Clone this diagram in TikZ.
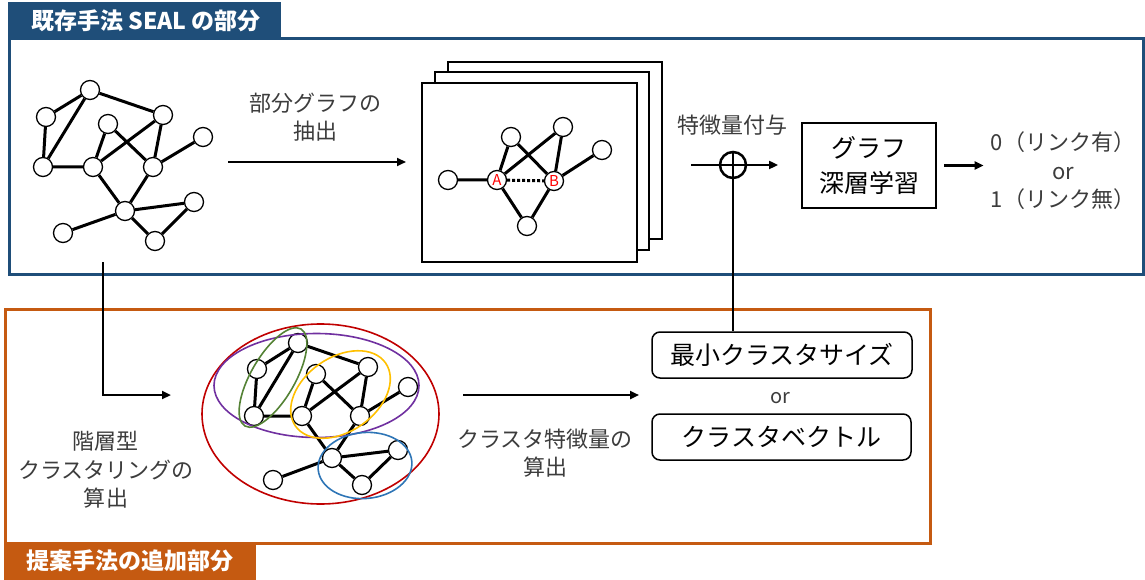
\documentclass[tikz,border=0pt]{standalone}
\usepackage{fontspec}
\setmainfont{Noto Sans CJK JP}
\usetikzlibrary{arrows.meta,shapes.geometric}
\definecolor{sealblue}{RGB}{31,78,121}
\definecolor{addorange}{RGB}{197,90,17}
\definecolor{labelgray}{RGB}{60,60,60}
\definecolor{cred}{RGB}{192,0,0}
\definecolor{cpurple}{RGB}{112,48,160}
\definecolor{cgreen}{RGB}{84,130,53}
\definecolor{cyellow}{RGB}{255,192,0}
\definecolor{cblue}{RGB}{46,117,182}
\begin{document}
\begin{tikzpicture}[x=1pt,y=-1pt,
  gn/.style={circle,draw,fill=white,line width=1.3pt,minimum size=19pt,inner sep=0pt},
  ge/.style={line width=3pt},
  arr/.style={line width=2.5pt,-{Triangle[length=9pt,width=8pt]}},
  lbl/.style={font=\fontsize{22}{28.5}\selectfont,text=labelgray,align=center,inner sep=0pt},
  boxtxt/.style={font=\fontsize{25}{35}\selectfont,align=center},
  titletxt/.style={font=\fontsize{23}{23}\selectfont\bfseries,text=white,inner sep=0pt},
  clus/.style={line width=1.6pt,draw}]
\useasboundingbox (0,0) rectangle (1145,580);
% frames
\draw[sealblue,line width=3pt] (9,39) rectangle (1143,274);
\fill[sealblue] (7.5,2) rectangle (281,40);
\node[titletxt] (t1) at (146,21) {既存手法 SEAL の部分};
\draw[addorange,line width=3pt] (5,309) rectangle (930,543);
\fill[addorange] (3.5,542) rectangle (256,580);
\node[titletxt] (t2) at (130,561) {提案手法の追加部分};
% upper graph
\node[gn] (a1) at (90,90) {};
\node[gn] (a2) at (46,117) {};
\node[gn] (a3) at (108,124) {};
\node[gn] (a4) at (163,115) {};
\node[gn] (a5) at (203,137) {};
\node[gn] (a6) at (43,167) {};
\node[gn] (a7) at (93,167) {};
\node[gn] (a8) at (153,167) {};
\node[gn] (a9) at (125,211) {};
\node[gn] (a10) at (194,202) {};
\node[gn] (a11) at (63,233) {};
\node[gn] (a12) at (155,241) {};
\draw[ge] (a1)--(a2) (a1)--(a4) (a1)--(a6) (a2)--(a6) (a6)--(a7) (a3)--(a7) (a3)--(a8)
  (a4)--(a7) (a4)--(a8) (a8)--(a5) (a7)--(a9) (a8)--(a9) (a9)--(a10) (a9)--(a11)
  (a9)--(a12) (a12)--(a10);
% extraction arrow
\coordinate (e1) at (228,162);
\coordinate (e2) at (406,162);
\draw[arr] (e1) -- (e2);
\node[lbl] (l1) at (315,117) {部分グラフの\\抽出};
% stacked frames
\draw[line width=2pt,fill=white] (448,62) rectangle (662,239);
\draw[line width=2pt,fill=white] (435,72) rectangle (649,250);
\draw[line width=2pt,fill=white] (422,83) rectangle (637,262);
\node[gn] (cL) at (448,180) {};
\node[gn,text=red,font=\fontsize{15}{15}\selectfont] (cA) at (497,180) {A};
\node[gn,text=red,font=\fontsize{15}{15}\selectfont] (cB) at (554,181) {B};
\node[gn] (cT1) at (511,137) {};
\node[gn] (cT2) at (563,127) {};
\node[gn] (cR) at (602,150) {};
\node[gn] (cD) at (527,226) {};
\draw[ge] (cL)--(cA) (cA)--(cT1) (cT1)--(cB) (cA)--(cT2) (cT2)--(cB) (cB)--(cR) (cA)--(cD) (cB)--(cD);
\draw[line width=3pt,dotted] (cA)--(cB);
% feature add
\node[lbl] (l2) at (732,125) {特徴量付与};
\node[circle,draw,line width=2.5pt,minimum size=26pt,inner sep=0pt] (op) at (733,165) {};
\coordinate (f1) at (691,165);
\coordinate (f2) at (778,165);
\draw[arr] (f1) -- (f2);
\node[draw,line width=2pt,minimum width=134pt,minimum height=85pt,boxtxt,inner sep=0pt] (dl) at (869,165.5) {グラフ\\深層学習};
\node[lbl] (out) at (1063,171) {0（リンク有）\\or\\1（リンク無）};
\draw[arr,shorten <=7pt,shorten >=7pt] (dl.east) -- (dl.east -| out.west);
% lower boxes
\node[draw,rounded corners=8pt,line width=1.5pt,minimum width=260pt,minimum height=46pt,inner sep=0pt,boxtxt] (mcs) at (782,355) {最小クラスタサイズ};
\node[font=\fontsize{20}{20}\selectfont,text=labelgray,inner sep=0pt] (or2) at (780,398) {or};
\node[draw,rounded corners=8pt,line width=1.5pt,minimum width=259pt,minimum height=46pt,inner sep=0pt,boxtxt] (cv) at (781.5,437) {クラスタベクトル};
\draw[line width=2.5pt] (op.north) -- (op.north |- mcs.north);
% L arrow
\coordinate (g1) at (103,262);
\coordinate (g2) at (171,395);
\draw[arr] (g1) |- (g2);
\node[lbl] (l3) at (106,470) {階層型\\クラスタリングの\\算出};
% lower graph
\node[gn] (b1) at (298,343) {};
\node[gn] (b2) at (257,369) {};
\node[gn] (b3) at (316,374) {};
\node[gn] (b4) at (368,367) {};
\node[gn] (b5) at (408,387) {};
\node[gn] (b6) at (254,416) {};
\node[gn] (b7) at (302,416) {};
\node[gn] (b8) at (360,416) {};
\node[gn] (b9) at (332,458) {};
\node[gn] (b10) at (398,450) {};
\node[gn] (b11) at (273,480) {};
\node[gn] (b12) at (362,485) {};
\draw[ge] (b1)--(b2) (b1)--(b4) (b1)--(b6) (b2)--(b6) (b6)--(b7) (b3)--(b7) (b3)--(b8)
  (b4)--(b7) (b4)--(b8) (b8)--(b5) (b7)--(b9) (b8)--(b9) (b9)--(b10) (b9)--(b11)
  (b9)--(b12) (b12)--(b10);
% clusters
\draw[clus,cred] (320.5,414) ellipse [x radius=118.5,y radius=90];
\draw[clus,cpurple] (316.5,385.5) ellipse [x radius=102.5,y radius=52];
\draw[clus,cgreen] (273,377.5) ellipse [x radius=56,y radius=22,rotate=60];
\draw[clus,cyellow] (340.5,394.5) ellipse [x radius=55,y radius=37,rotate=35];
\draw[clus,cblue] (365,465.5) ellipse [x radius=47,y radius=33,rotate=5];
% cluster feature arrow
\coordinate (h1) at (463,395);
\coordinate (h2) at (639,395);
\draw[arr] (h1) -- (h2);
\node[lbl] (l4) at (545,453) {クラスタ特徴量の\\算出};
\end{tikzpicture}
\end{document}
